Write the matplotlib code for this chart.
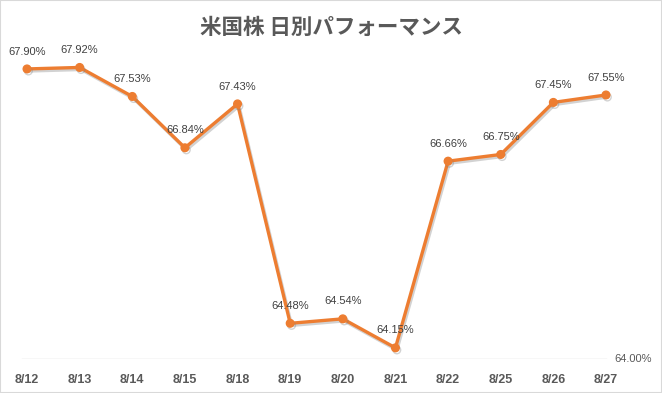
from matplotlib import pyplot as plt
from matplotlib.patches import Rectangle
import matplotlib.patheffects as pe

plt.rcParams['font.family'] = ['Liberation Sans', 'Noto Sans CJK JP']

dates = ['8/12', '8/13', '8/14', '8/15', '8/18', '8/19',
         '8/20', '8/21', '8/22', '8/25', '8/26', '8/27']
perf = [67.90, 67.92, 67.53, 66.84, 67.43, 64.48,
        64.54, 64.15, 66.66, 66.75, 67.45, 67.55]
y_min, y_max = 64.0, 68.0

fig = plt.figure(figsize=(6.62, 3.93), dpi=100)
ax = fig.add_axes([0.7 / 662, 34 / 393, 631.6 / 662, 297.5 / 393])

x = list(range(len(dates)))

# baseline gridline
ax.plot([-0.1, 11.0], [y_min, y_min], color='#D9D9D9', lw=1, zorder=1)

shadow = [pe.SimpleLineShadow(offset=(1, -1.5), shadow_color='#808080', alpha=0.35),
          pe.Normal()]
ax.plot(x, perf, color='#ED7D31', lw=2.4, marker='o', markersize=5.5,
        solid_joinstyle='round', zorder=3, path_effects=shadow)

for xi, v in zip(x, perf):
    ax.annotate(f'{v:.2f}%', (xi, v), xytext=(0, 12.5), textcoords='offset points',
                ha='center', va='center', fontsize=8, color='#404040')

ax.text(11.51, y_min, f'{y_min:.2f}%', ha='center', va='center',
        fontsize=8, color='#595959')

ax.set_xlim(-0.5, 11.5)
ax.set_ylim(y_min, y_max)
ax.set_xticks(x)
ax.set_xticklabels(dates, fontsize=9, color='#595959', fontweight='bold')
ax.tick_params(axis='x', length=0, pad=11)
ax.set_yticks([])
for s in ax.spines.values():
    s.set_visible(False)
ax.patch.set_alpha(0)

fig.text(0.5, 1 - 27 / 393, '米国株 日別パフォーマンス', ha='center', va='center',
         fontsize=15.5, color='#595959', fontweight='bold',
         family=['Noto Sans CJK JP', 'DejaVu Sans'])

fig.patches.append(Rectangle((0, 0), 1, 1, transform=fig.transFigure, fill=False,
                             edgecolor='#D9D9D9', lw=1.5))

plt.savefig('out.png', dpi=100)
